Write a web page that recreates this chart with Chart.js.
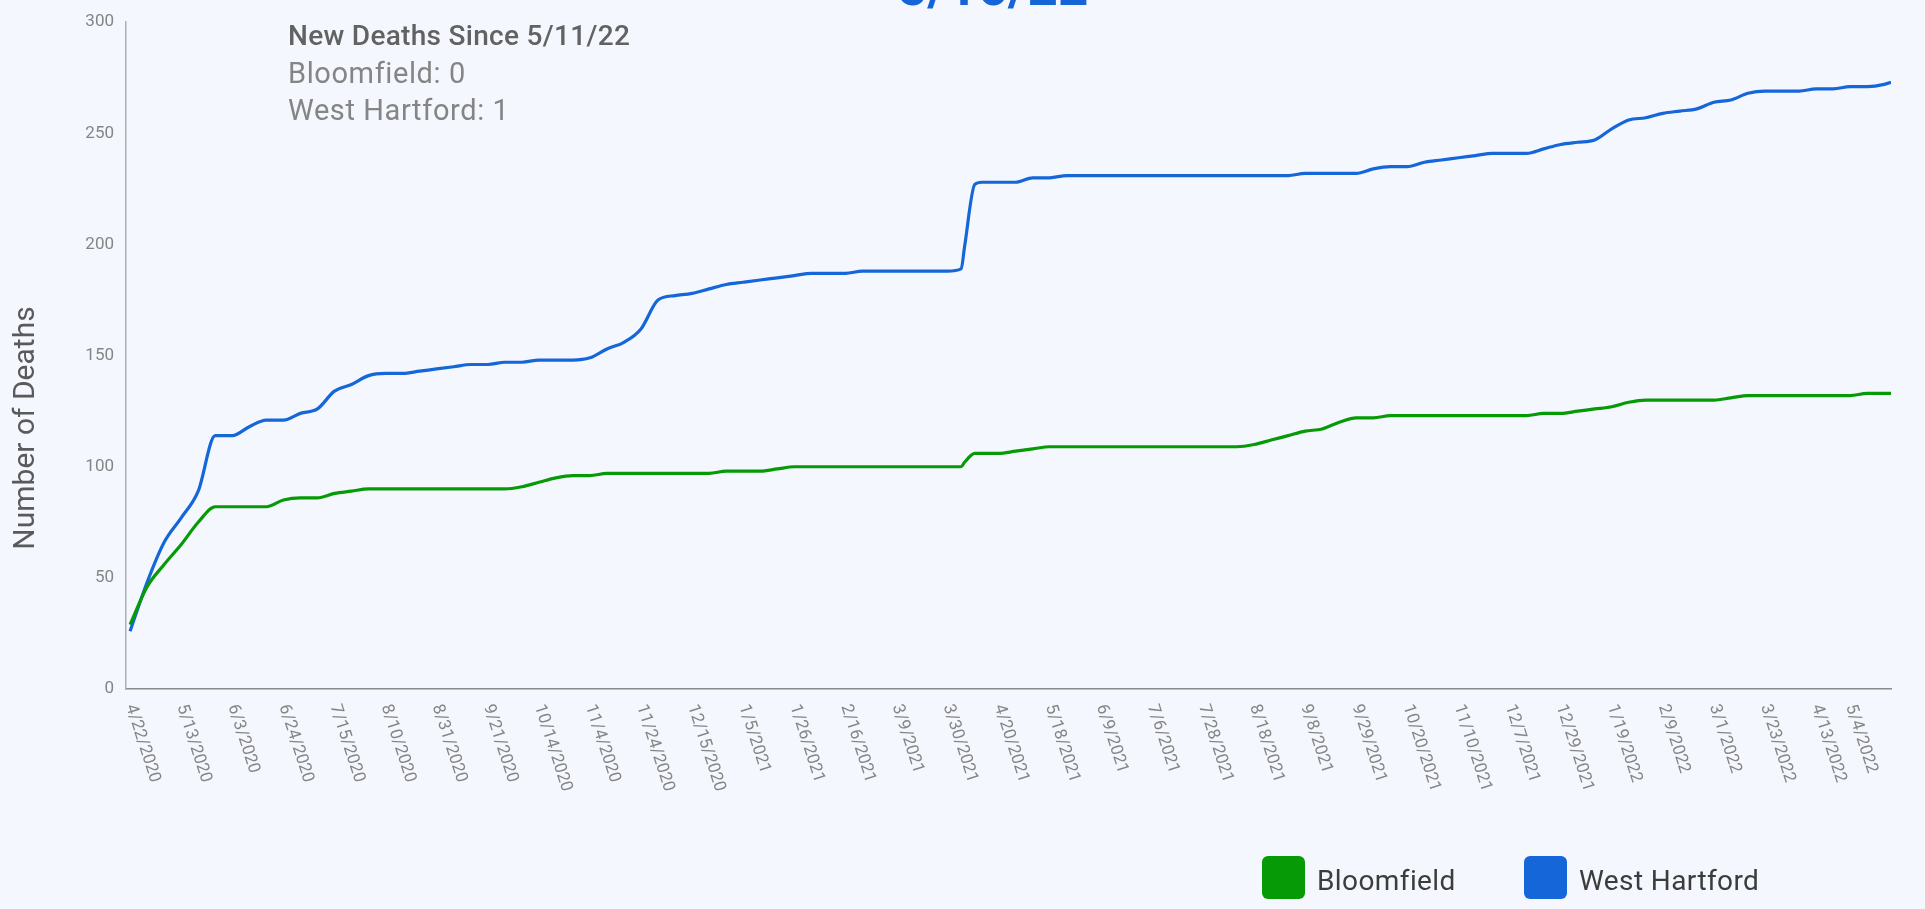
<!DOCTYPE html>
<html>
<head>
    <meta charset="utf-8">
    <title>Deaths - Bloomfield / West Hartford</title>
    <script src="https://cdn.jsdelivr.net/npm/chart.js"></script>
    <style>
        html, body { margin: 0; padding: 0; background: #f5f7fe; overflow: hidden; font-family: Roboto, sans-serif; }
        #wrap { position: relative; width: 1925px; height: 909px; }
        #updated { position: absolute; left: 897px; top: -39px; font-size: 53px; line-height: 53px; font-weight: 700; color: #1565d8; white-space: nowrap; }
        #note { position: absolute; left: 288px; top: 17px; font-size: 29px; line-height: 37.5px; letter-spacing: 0.6px; color: #858585; }
        #note .head { font-size: 28px; letter-spacing: 0.3px; font-weight: 500; color: #626262; }
        #legend { position: absolute; top: 856px; left: 1262px; display: flex; font-size: 28px; color: #3c3c3c; }
        #legend .item { display: flex; align-items: center; width: 262px; }
        #legend .box { width: 43px; height: 43px; border-radius: 6px; margin-right: 12px; }
        #legend .txt { padding-top: 5px; letter-spacing: 0.4px; }
    </style>
</head>
<body>
<div id="wrap">
    <canvas id="deaths"></canvas>
    <div id="updated">5/16/22</div>
    <div id="note">
        <div class="head">New Deaths Since 5/11/22</div>
        <div>Bloomfield: 0</div>
        <div>West Hartford: 1</div>
    </div>
    <div id="legend"></div>
</div>

<script>
    // report index (weekday reports since 4/22/2020), sampled about weekly
    var reportIdx = [0, 5, 10, 15, 20, 25, 30, 35, 40, 45, 50, 55, 60, 65, 70, 75, 80, 85, 90, 95,
        100, 105, 110, 115, 120, 125, 130, 135, 140, 145, 150, 155, 160, 165, 170, 175, 180, 185, 190, 195,
        200, 205, 210, 215, 220, 225, 230, 235, 240, 244, 245, 248, 250,
        255, 260, 265, 270, 275, 280, 285, 290, 295, 300, 305, 310, 315, 320, 325, 330, 335, 340,
        345, 350, 355, 360, 365, 370, 375, 380, 385, 390, 395, 400, 405, 410, 415, 420, 425, 430,
        435, 440, 445, 450, 455, 460, 465, 470, 475, 480, 485, 490, 495, 500, 505, 510, 515, 517];

    var bloomfield = [29, 46, 56, 65, 75, 82, 82, 82, 82, 85, 86, 86, 88, 89, 90, 90, 90, 90, 90, 90,
        90, 90, 90, 91, 93, 95, 96, 96, 97, 97, 97, 97, 97, 97, 97, 98, 98, 98, 99, 100,
        100, 100, 100, 100, 100, 100, 100, 100, 100, 100, 102, 106, 106,
        106, 107, 108, 109, 109, 109, 109, 109, 109, 109, 109, 109, 109, 109, 109, 110, 112, 114,
        116, 117, 120, 122, 122, 123, 123, 123, 123, 123, 123, 123, 123, 123, 124, 124, 125, 126,
        127, 129, 130, 130, 130, 130, 130, 131, 132, 132, 132, 132, 132, 132, 132, 133, 133, 133];

    var westHartford = [26, 48, 66, 77, 89, 114, 114, 118, 121, 121, 124, 126, 134, 137, 141, 142, 142, 143, 144, 145,
        146, 146, 147, 147, 148, 148, 148, 149, 153, 156, 162, 175, 177, 178, 180, 182, 183, 184, 185, 186,
        187, 187, 187, 188, 188, 188, 188, 188, 188, 189, 199, 227, 228,
        228, 228, 230, 230, 231, 231, 231, 231, 231, 231, 231, 231, 231, 231, 231, 231, 231, 231,
        232, 232, 232, 232, 234, 235, 235, 237, 238, 239, 240, 241, 241, 241, 243, 245, 246, 247,
        252, 256, 257, 259, 260, 261, 264, 265, 268, 269, 269, 269, 270, 270, 271, 271, 272, 273];

    var tickReport = [0, 15, 30, 45, 60, 75, 90, 105, 120, 135, 150, 165, 180, 195, 210, 225, 240,
        255, 270, 285, 300, 315, 330, 345, 360, 375, 390, 405, 420, 435, 450, 465, 480, 495, 505];

    var tickLabels = ['4/22/2020', '5/13/2020', '6/3/2020', '6/24/2020', '7/15/2020', '8/10/2020',
        '8/31/2020', '9/21/2020', '10/14/2020', '11/4/2020', '11/24/2020', '12/15/2020', '1/5/2021',
        '1/26/2021', '2/16/2021', '3/9/2021', '3/30/2021', '4/20/2021', '5/18/2021', '6/9/2021',
        '7/6/2021', '7/28/2021', '8/18/2021', '9/8/2021', '9/29/2021', '10/20/2021', '11/10/2021',
        '12/7/2021', '12/29/2021', '1/19/2022', '2/9/2022', '3/1/2022', '3/23/2022', '4/13/2022', '5/4/2022'];

    var towns = ['Bloomfield', 'West Hartford'];
    var colors = ['#069a06', '#1466d9'];

    Chart.defaults.font.family = 'Roboto';

    function points(values) {
        return reportIdx.map(function (r, i) { return { x: r, y: values[i] }; });
    }

    // slanted date labels + y title, drawn on the canvas
    var extraText = {
        id: 'extraText',
        afterDraw: function (chart) {
            var ctx = chart.ctx;
            var area = chart.chartArea;
            var x = chart.scales.x;
            ctx.save();
            ctx.font = '17px Roboto';
            ctx.fillStyle = '#858585';
            ctx.textAlign = 'left';
            ctx.textBaseline = 'middle';
            for (var i = 0; i < tickReport.length; i++) {
                ctx.save();
                ctx.translate(x.getPixelForValue(tickReport[i]), area.bottom + 16);
                ctx.rotate(72 * Math.PI / 180);
                ctx.fillText(tickLabels[i], 0, 0);
                ctx.restore();
            }
            ctx.font = '30px Roboto';
            ctx.fillStyle = '#5a5a5a';
            ctx.textAlign = 'center';
            ctx.translate(26, 428);
            ctx.rotate(-Math.PI / 2);
            ctx.fillText(chart.options.scales.y.title.text, 0, 0);
            ctx.restore();
        }
    };

    new Chart(document.getElementById('deaths'), {
        type: 'line',
        data: {
            datasets: [{
                label: towns[0],
                data: points(bloomfield),
                borderColor: colors[0],
                backgroundColor: colors[0]
            }, {
                label: towns[1],
                data: points(westHartford),
                borderColor: colors[1],
                backgroundColor: colors[1]
            }]
        },
        options: {
            responsive: true,
            maintainAspectRatio: false,
            animation: false,
            layout: { padding: { left: 0, top: 17, right: 34, bottom: 0 } },
            elements: {
                point: { radius: 0 },
                line: { borderWidth: 3.2, cubicInterpolationMode: 'monotone' }
            },
            plugins: {
                legend: { display: false },
                tooltip: { enabled: false }
            },
            scales: {
                x: {
                    type: 'linear',
                    min: -1.2,
                    max: 517,
                    grid: { display: false },
                    border: { display: true, color: '#8a8a8a', width: 1.5 },
                    ticks: { display: false },
                    afterBuildTicks: function (scale) {
                        scale.ticks = tickReport.map(function (r) { return { value: r }; });
                    },
                    afterFit: function (scale) { scale.height = 220; }
                },
                y: {
                    min: 0,
                    max: 300,
                    grid: { display: false, drawTicks: false },
                    border: { display: true, color: '#b0b0b0', width: 1.5 },
                    title: { display: false, text: 'Number of Deaths' },
                    ticks: { stepSize: 50, padding: 12, color: '#858585', font: { size: 17 } },
                    afterFit: function (scale) { scale.width = 126; }
                }
            }
        },
        plugins: [extraText]
    });

    // legend
    var legend = document.getElementById('legend');
    towns.forEach(function (t, i) {
        var item = document.createElement('div');
        item.className = 'item';
        item.innerHTML = '<span class="box" style="background:' + colors[i] + '"></span><span class="txt">' + t + '</span>';
        legend.appendChild(item);
    });
</script>
</body>
</html>
